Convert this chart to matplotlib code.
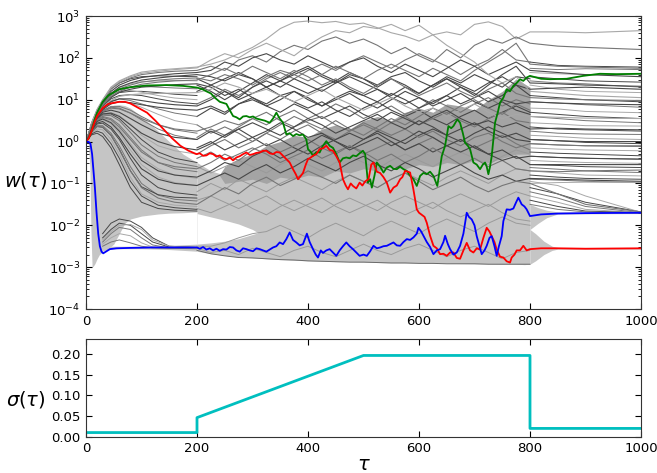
import numpy as np
import matplotlib.pyplot as plt

plt.rcParams['font.family'] = 'DejaVu Sans'
plt.rcParams['mathtext.fontset'] = 'dejavusans'

# ---------------- data (log10 w) ----------------
# highlighted trajectories: (tau, log10 w)
green_pts = [(0, 0.0), (5, 0.08), (10, 0.25), (15, 0.5), (20, 0.69), (30, 0.95), (40, 1.1), (60, 1.25),
             (80, 1.3), (110, 1.34), (145, 1.35), (175, 1.33), (200, 1.29), (210, 1.25), (217, 1.2),
             (225, 1.15), (232, 1.05), (241, 0.95), (253, 0.9), (259, 0.75), (265, 0.61), (271, 0.58),
             (277, 0.53), (283, 0.6), (289, 0.61), (295, 0.58), (301, 0.6), (307, 0.55), (313, 0.53),
             (322, 0.5), (331, 0.45), (337, 0.55), (343, 0.69), (349, 0.55), (355, 0.45), (361, 0.17),
             (367, 0.2), (373, 0.13), (379, 0.18), (385, 0.15), (391, 0.17), (397, 0.05), (400, -0.18),
             (405, -0.25), (409, -0.34), (415, -0.25), (421, -0.26), (427, -0.1), (433, 0.01), (439, -0.1),
             (445, -0.15), (451, -0.3), (457, -0.5), (463, -0.4), (469, -0.38), (475, -0.4), (481, -0.33),
             (487, -0.35), (493, -0.28), (499, -0.22), (503, -0.3), (508, -0.98), (512, -0.9), (515, -1.1),
             (520, -0.8), (524, -0.5), (530, -0.6), (536, -0.74), (542, -0.62), (548, -0.58), (554, -0.65),
             (560, -0.66), (566, -0.6), (572, -0.66), (578, -0.7), (584, -0.82), (590, -0.9), (596, -1.06),
             (602, -0.82), (608, -0.75), (614, -0.78), (620, -0.72), (626, -0.82), (633, -1.06), (637, -0.7),
             (641, -0.35), (647, -0.1), (653, 0.37), (658, 0.32), (662, 0.37), (669, 0.53), (674, 0.45),
             (679, 0.2), (683, -0.03), (688, -0.1), (692, -0.18), (698, -0.5), (704, -0.55), (710, -0.66),
             (715, -0.55), (719, -0.5), (722, -0.6), (725, -0.78), (728, -0.6), (731, -0.35), (737, 0.45),
             (742, 0.7), (746, 0.93), (752, 1.05), (758, 1.25), (764, 1.2), (770, 1.33), (776, 1.4),
             (782, 1.49), (788, 1.45), (794, 1.53), (800, 1.57), (820, 1.5), (836, 1.49), (866, 1.5),
             (896, 1.57), (926, 1.62), (956, 1.61), (1000, 1.62)]

red_pts = [(0, 0.0), (5, 0.08), (10, 0.25), (15, 0.45), (20, 0.61), (30, 0.8), (40, 0.9), (60, 0.95),
           (70, 0.95), (80, 0.91), (95, 0.8), (110, 0.69), (125, 0.5), (140, 0.29), (155, 0.08), (170, -0.1),
           (185, -0.22), (199, -0.3), (205, -0.28), (211, -0.34), (217, -0.33), (223, -0.28), (229, -0.3),
           (235, -0.36), (241, -0.33), (247, -0.4), (253, -0.42), (259, -0.38), (265, -0.45), (271, -0.38),
           (277, -0.35), (283, -0.3), (289, -0.26), (295, -0.32), (301, -0.3), (307, -0.27), (313, -0.26),
           (319, -0.22), (325, -0.22), (331, -0.28), (337, -0.3), (343, -0.25), (349, -0.26), (355, -0.34),
           (361, -0.42), (367, -0.5), (373, -0.66), (378, -0.78), (382, -0.9), (387, -0.82), (391, -0.75),
           (396, -0.55), (400, -0.42), (405, -0.38), (409, -0.34), (415, -0.3), (421, -0.18), (427, -0.16),
           (433, -0.1), (439, -0.2), (445, -0.22), (451, -0.35), (457, -0.5), (463, -0.9), (468, -1.05),
           (472, -1.14), (477, -1.0), (481, -1.06), (487, -1.12), (493, -0.98), (498, -1.05), (503, -0.95),
           (509, -0.9), (514, -0.55), (518, -0.5), (524, -0.72), (530, -0.75), (536, -0.85), (542, -0.98),
           (548, -1.22), (554, -1.1), (560, -1.05), (566, -0.9), (570, -0.85), (575, -0.7), (580, -0.72),
           (584, -0.74), (590, -1.15), (596, -1.62), (600, -1.7), (605, -1.75), (610, -1.8), (614, -1.94),
           (620, -2.25), (626, -2.49), (632, -2.55), (638, -2.69), (644, -2.68), (650, -2.73), (656, -2.65),
           (662, -2.65), (668, -2.78), (674, -2.8), (680, -2.6), (686, -2.42), (692, -2.6), (698, -2.65),
           (704, -2.55), (710, -2.58), (716, -2.3), (722, -2.06), (727, -2.15), (731, -2.26), (736, -2.4),
           (740, -2.58), (746, -2.75), (752, -2.77), (758, -2.86), (764, -2.89), (767, -2.77), (772, -2.7),
           (776, -2.6), (782, -2.6), (788, -2.49), (794, -2.6), (800, -2.57), (820, -2.55), (850, -2.55),
           (900, -2.56), (1000, -2.55)]

blue_pts = [(0, 0.0), (5, -0.01), (8, -0.05), (11, -0.3), (14, -0.8), (16, -1.1), (19, -1.7), (22, -2.2),
            (25, -2.5), (28, -2.63), (31, -2.67), (37, -2.62), (43, -2.57), (55, -2.55), (80, -2.54),
            (120, -2.53), (160, -2.53), (200, -2.53), (205, -2.56), (211, -2.52), (217, -2.58), (223, -2.55),
            (229, -2.6), (235, -2.56), (241, -2.61), (247, -2.57), (253, -2.58), (259, -2.52), (265, -2.53),
            (271, -2.6), (277, -2.63), (283, -2.55), (289, -2.57), (295, -2.6), (301, -2.62), (307, -2.55),
            (313, -2.57), (319, -2.6), (325, -2.63), (331, -2.58), (337, -2.53), (343, -2.5), (349, -2.41),
            (355, -2.45), (361, -2.33), (367, -2.17), (373, -2.35), (379, -2.41), (385, -2.48), (391, -2.45),
            (398, -2.2), (403, -2.4), (409, -2.57), (414, -2.7), (418, -2.77), (423, -2.6), (427, -2.66),
            (433, -2.6), (439, -2.57), (445, -2.65), (451, -2.73), (457, -2.6), (463, -2.5), (469, -2.41),
            (475, -2.5), (481, -2.57), (487, -2.65), (493, -2.73), (500, -2.7), (506, -2.73), (512, -2.62),
            (518, -2.49), (524, -2.55), (530, -2.53), (536, -2.5), (542, -2.49), (548, -2.45), (554, -2.41),
            (560, -2.48), (566, -2.49), (572, -2.4), (578, -2.33), (584, -2.35), (590, -2.29), (596, -2.2),
            (599, -2.06), (604, -2.15), (608, -2.25), (614, -2.4), (620, -2.52), (626, -2.69), (632, -2.6),
            (638, -2.57), (644, -2.4), (647, -2.25), (652, -2.45), (656, -2.57), (662, -2.7), (668, -2.65),
            (674, -2.49), (680, -2.2), (686, -1.7), (690, -1.8), (695, -1.86), (700, -2.0), (704, -2.26),
            (710, -2.55), (713, -2.69), (718, -2.6), (722, -2.49), (727, -2.3), (731, -2.26), (736, -2.5),
            (740, -2.73), (744, -2.5), (749, -2.26), (752, -1.9), (758, -1.62), (764, -1.63), (770, -1.6),
            (775, -1.45), (779, -1.34), (785, -1.5), (790, -1.55), (794, -1.62), (800, -1.78), (820, -1.74),
            (850, -1.72), (900, -1.71), (1000, -1.7)]

# grey ensemble: sampled trajectories
tau_early = [0, 5, 10, 20, 30, 45, 60, 80, 100, 130, 160, 200]
tau_mid = [225, 250, 275, 300, 325, 350, 375, 400, 425, 450, 475, 500,
           525, 550, 575, 600, 625, 650, 675, 700, 725, 750, 775, 800]
tau_late = [850, 900, 1000]

track_early = [
    [0, 0.2, 0.45, 0.77, 1.0, 1.3, 1.45, 1.57, 1.66, 1.71, 1.74, 1.78],
    [0, 0.2, 0.43, 0.74, 0.97, 1.25, 1.4, 1.52, 1.6, 1.65, 1.68, 1.7],
    [0, 0.2, 0.42, 0.72, 0.93, 1.2, 1.35, 1.46, 1.53, 1.58, 1.62, 1.65],
    [0, 0.19, 0.4, 0.7, 0.9, 1.15, 1.3, 1.4, 1.47, 1.52, 1.56, 1.6],
    [0, 0.19, 0.4, 0.68, 0.88, 1.12, 1.26, 1.35, 1.42, 1.47, 1.5, 1.52],
    [0, 0.18, 0.38, 0.65, 0.84, 1.05, 1.18, 1.25, 1.3, 1.33, 1.36, 1.38],
    [0, 0.18, 0.38, 0.63, 0.8, 0.98, 1.08, 1.12, 1.14, 1.15, 1.16, 1.17],
    [0, 0.17, 0.36, 0.6, 0.76, 0.9, 0.95, 0.93, 0.88, 0.82, 0.78, 0.75],
    [0, 0.16, 0.35, 0.58, 0.72, 0.8, 0.78, 0.68, 0.55, 0.4, 0.3, 0.25],
    [0, 0.15, 0.33, 0.55, 0.66, 0.68, 0.6, 0.4, 0.2, 0.0, -0.12, -0.2],
    [0, 0.14, 0.3, 0.5, 0.58, 0.52, 0.35, 0.05, -0.25, -0.5, -0.6, -0.65],
    [0, 0.12, 0.27, 0.44, 0.48, 0.35, 0.1, -0.3, -0.65, -0.9, -1.0, -1.05],
    [0, 0.1, 0.22, 0.36, 0.35, 0.15, -0.2, -0.7, -1.1, -1.35, -1.45, -1.5],
    [0, 0.17, 0.37, 0.62, 0.78, 0.95, 1.02, 1.02, 0.98, 0.92, 0.88, 0.85],
    [0, 0.2, 0.44, 0.76, 0.99, 1.28, 1.43, 1.55, 1.63, 1.68, 1.72, 1.76],
    [0, 0.15, 0.34, 0.57, 0.7, 0.75, 0.7, 0.55, 0.4, 0.2, 0.1, 0.05],
    [0, 0.18, 0.39, 0.66, 0.86, 1.08, 1.2, 1.3, 1.37, 1.42, 1.45, 1.47],
    [0, 0.13, 0.29, 0.48, 0.54, 0.45, 0.25, -0.1, -0.45, -0.7, -0.8, -0.85],
]
track_mid = [
    [1.85, 1.95, 2.1, 2.25, 2.45, 2.7, 2.85, 2.88, 2.84, 2.87, 2.8, 2.83, 2.72, 2.6, 2.52, 2.4, 2.55, 2.62, 2.55, 2.8, 2.86, 2.75, 2.45, 2.62],
    [1.8, 1.7, 1.95, 2.05, 1.9, 2.15, 2.3, 2.2, 2.4, 2.5, 2.35, 2.45, 2.3, 2.1, 2.25, 2.05, 1.9, 2.2, 2.0, 2.3, 2.45, 2.35, 2.5, 2.35],
    [1.7, 1.9, 1.8, 2.0, 2.1, 1.95, 1.85, 2.05, 1.9, 1.75, 1.9, 2.0, 1.8, 1.65, 1.85, 1.7, 1.55, 1.75, 1.95, 1.8, 1.6, 1.75, 1.9, 1.7],
    [1.55, 1.45, 1.6, 1.5, 1.3, 1.45, 1.6, 1.75, 1.55, 1.4, 1.6, 1.5, 1.35, 1.55, 1.65, 1.45, 1.3, 1.5, 1.35, 1.2, 1.4, 1.55, 1.35, 1.25],
    [1.45, 1.6, 1.5, 1.35, 1.55, 1.7, 1.6, 1.45, 1.6, 1.8, 1.65, 1.5, 1.7, 1.85, 1.7, 1.55, 1.75, 1.6, 1.45, 1.7, 1.9, 2.1, 2.35, 1.85],
    [1.3, 1.1, 1.25, 1.05, 0.9, 1.1, 1.2, 1.0, 0.85, 1.05, 1.2, 1.1, 0.95, 1.15, 1.0, 0.8, 0.95, 1.1, 0.9, 1.05, 1.2, 1.0, 0.9, 0.95],
    [1.25, 1.4, 1.3, 1.15, 1.25, 1.1, 0.95, 1.1, 1.25, 1.05, 0.9, 0.75, 0.9, 1.05, 0.85, 0.7, 0.8, 0.6, 0.75, 0.9, 0.7, 0.55, 0.65, 0.6],
    [0.85, 0.7, 0.9, 1.0, 0.85, 0.7, 0.9, 0.75, 0.55, 0.7, 0.85, 0.65, 0.5, 0.7, 0.55, 0.4, 0.6, 0.75, 0.55, 0.4, 0.5, 0.35, 0.45, 0.3],
    [0.35, 0.5, 0.4, 0.55, 0.7, 0.5, 0.35, 0.5, 0.6, 0.4, 0.25, 0.45, 0.3, 0.15, 0.3, 0.1, 0.25, 0.05, -0.1, 0.1, 0.2, 0.0, -0.15, -0.05],
    [-0.05, 0.15, 0.3, 0.1, 0.25, 0.45, 0.3, 0.1, 0.2, 0.0, -0.15, 0.05, 0.2, 0.0, -0.2, -0.05, -0.25, -0.1, 0.05, -0.15, -0.3, -0.2, -0.4, -0.35],
    [-0.5, -0.3, -0.45, -0.2, -0.05, -0.25, -0.1, 0.05, -0.15, -0.3, -0.1, -0.25, -0.45, -0.3, -0.5, -0.35, -0.15, -0.35, -0.55, -0.4, -0.6, -0.45, -0.65, -0.7],
    [-0.9, -0.75, -0.9, -0.7, -0.55, -0.75, -0.6, -0.4, -0.55, -0.7, -0.5, -0.35, -0.55, -0.7, -0.5, -0.65, -0.85, -0.7, -0.55, -0.75, -0.9, -0.8, -0.95, -0.88],
    [-1.3, -1.1, -1.25, -1.0, -0.85, -1.05, -0.9, -0.7, -0.85, -1.0, -0.8, -0.95, -1.1, -0.9, -0.75, -0.95, -1.15, -1.0, -0.85, -1.05, -1.2, -1.05, -0.95, -1.0],
    [1.0, 1.2, 1.05, 1.3, 1.45, 1.3, 1.5, 1.35, 1.2, 1.4, 1.55, 1.4, 1.25, 1.1, 1.3, 1.15, 1.35, 1.5, 1.3, 1.1, 1.35, 1.6, 1.8, 1.4],
    [1.95, 2.1, 2.0, 2.2, 2.35, 2.2, 2.05, 2.3, 2.5, 2.65, 2.6, 2.75, 2.7, 2.8, 2.65, 2.78, 2.55, 2.3, 2.1, 1.9, 1.6, 1.4, 1.55, 1.2],
    [0.25, 0.1, 0.3, 0.45, 0.3, 0.15, 0.35, 0.55, 0.4, 0.2, 0.35, 0.5, 0.65, 0.45, 0.3, 0.5, 0.35, 0.15, 0.3, 0.45, 0.25, 0.1, 0.2, 0.05],
    [1.6, 1.75, 1.6, 1.8, 1.65, 1.5, 1.7, 1.55, 1.35, 1.5, 1.3, 1.15, 1.35, 1.5, 1.3, 1.1, 1.25, 1.4, 1.2, 1.05, 1.25, 1.4, 1.15, 1.05],
    [-0.7, -0.5, -0.6, -0.35, -0.2, -0.4, -0.25, -0.05, 0.15, 0.0, -0.2, -0.05, 0.1, -0.1, 0.05, 0.25, 0.1, -0.1, -0.25, -0.1, -0.3, -0.45, -0.35, -0.55],
]
track_late = [
    [2.62, 2.6, 2.65], [2.28, 2.25, 2.2], [1.65, 1.6, 1.55], [1.28, 1.3, 1.25], [1.8, 1.78, 1.75],
    [0.92, 0.9, 0.88], [0.58, 0.56, 0.55], [0.32, 0.3, 0.28], [-0.08, -0.1, -0.1], [-0.38, -0.4, -0.42],
    [-0.72, -0.7, -0.68], [-0.9, -0.92, -0.95], [-1.25, -1.5, -1.68], [1.38, 1.35, 1.32], [1.15, 1.1, 1.05],
    [0.02, 0.0, 0.0], [1.02, 1.0, 0.98], [-0.55, -0.55, -0.55],
]

# additional early fan trajectories (tau_early)
fan_lines = [
    [0, 0.15, 0.33, 0.55, 0.66, 0.66, 0.55, 0.3, 0.05, -0.25, -0.4, -0.5],
    [0, 0.14, 0.31, 0.52, 0.6, 0.55, 0.4, 0.1, -0.2, -0.5, -0.65, -0.72],
    [0, 0.13, 0.29, 0.47, 0.52, 0.42, 0.2, -0.2, -0.55, -0.85, -0.98, -1.05],
    [0, 0.12, 0.26, 0.42, 0.44, 0.3, 0.05, -0.4, -0.8, -1.1, -1.22, -1.28],
    [0, 0.11, 0.24, 0.38, 0.38, 0.2, -0.1, -0.6, -1.0, -1.28, -1.38, -1.42],
    [0, 0.1, 0.2, 0.3, 0.28, 0.05, -0.3, -0.85, -1.25, -1.45, -1.52, -1.55],
    [0, 0.08, 0.16, 0.2, 0.12, -0.15, -0.55, -1.1, -1.45, -1.6, -1.64, -1.66],
    [0, 0.16, 0.35, 0.6, 0.74, 0.82, 0.8, 0.68, 0.52, 0.3, 0.15, 0.05],
    [0, 0.17, 0.37, 0.63, 0.79, 0.92, 0.96, 0.92, 0.82, 0.65, 0.5, 0.4],
    [0, 0.18, 0.39, 0.67, 0.85, 1.02, 1.1, 1.12, 1.1, 1.02, 0.95, 0.9],
    [0, 0.19, 0.41, 0.7, 0.9, 1.12, 1.24, 1.3, 1.32, 1.3, 1.28, 1.26],
    [0, 0.14, 0.3, 0.5, 0.56, 0.48, 0.3, -0.05, -0.38, -0.65, -0.8, -0.88],
    [0, 0.09, 0.18, 0.25, 0.2, -0.05, -0.4, -0.95, -1.3, -1.52, -1.58, -1.62],
    [0, 0.15, 0.32, 0.54, 0.63, 0.62, 0.5, 0.22, -0.08, -0.35, -0.5, -0.6],
    [0, 0.19, 0.41, 0.71, 0.91, 1.15, 1.29, 1.38, 1.43, 1.45, 1.46, 1.45],
    [0, 0.18, 0.39, 0.68, 0.87, 1.07, 1.17, 1.2, 1.2, 1.17, 1.13, 1.1],
    [0, 0.17, 0.37, 0.64, 0.81, 0.97, 1.02, 0.98, 0.9, 0.78, 0.68, 0.6],
    [0, 0.18, 0.4, 0.69, 0.88, 1.1, 1.2, 1.22, 1.18, 1.1, 1.04, 1.0],
    [0, 0.2, 0.43, 0.75, 0.98, 1.26, 1.4, 1.5, 1.55, 1.57, 1.56, 1.55],
    [0, 0.16, 0.35, 0.6, 0.74, 0.84, 0.84, 0.75, 0.6, 0.4, 0.28, 0.2],
    [0, 0.15, 0.33, 0.55, 0.66, 0.7, 0.62, 0.42, 0.15, -0.1, -0.22, -0.3],
    [0, 0.11, 0.23, 0.36, 0.34, 0.15, -0.18, -0.7, -1.08, -1.27, -1.33, -1.35],
]

# trajectories branching off the fan towards the low state
tau_branch = [30, 45, 60, 80, 100, 120, 150, 200]
branch_lines = [
    [-2.3, -2.1, -1.95, -2.0, -2.2, -2.4, -2.52, -2.54],
    [-2.4, -2.2, -2.05, -2.1, -2.3, -2.47, -2.54, -2.55],
    [-2.45, -2.3, -2.2, -2.25, -2.42, -2.52, -2.55, -2.55],
    [-2.2, -1.95, -1.85, -1.9, -2.05, -2.3, -2.5, -2.53],
    [-2.5, -2.4, -2.35, -2.42, -2.5, -2.54, -2.55, -2.56],
    [-2.35, -2.15, -2.0, -1.98, -2.1, -2.35, -2.5, -2.54],
]

# trajectories inside the dense band and above it (200..800)
tau_band_lines = [200] + tau_mid
band_lines = [
    [-1.2, -1.0, -1.15, -0.9, -1.05, -1.2, -1.0, -0.85, -1.0, -1.15, -0.95, -0.8, -0.95, -1.1, -0.9, -0.75, -0.9, -1.05, -0.85, -0.7, -0.85, -1.0, -0.8, -0.65, -0.7],
    [-1.6, -1.7, -1.55, -1.4, -1.6, -1.75, -1.55, -1.4, -1.55, -1.7, -1.5, -1.35, -1.5, -1.65, -1.45, -1.3, -1.45, -1.6, -1.4, -1.25, -1.4, -1.55, -1.35, -1.2, -1.3],
    [-2.5, -2.5, -2.42, -2.3, -2.2, -2.15, -2.0, -2.15, -2.3, -2.1, -1.95, -2.1, -2.25, -2.05, -1.9, -2.05, -2.2, -2.0, -1.85, -2.0, -2.15, -1.95, -1.8, -1.95, -2.0],
    [-2.55, -2.65, -2.6, -2.7, -2.55, -2.65, -2.75, -2.6, -2.5, -2.65, -2.75, -2.6, -2.45, -2.6, -2.7, -2.55, -2.45, -2.6, -2.75, -2.6, -2.5, -2.65, -2.8, -2.65, -2.6],
    [-0.6, -0.75, -0.6, -0.45, -0.6, -0.75, -0.55, -0.4, -0.55, -0.7, -0.5, -0.35, -0.5, -0.65, -0.45, -0.3, -0.45, -0.6, -0.4, -0.25, -0.4, -0.55, -0.35, -0.2, -0.3],
    [-1.4, -1.3, -1.45, -1.6, -1.45, -1.3, -1.5, -1.65, -1.5, -1.35, -1.55, -1.7, -1.55, -1.4, -1.6, -1.75, -1.6, -1.45, -1.65, -1.8, -1.65, -1.5, -1.7, -1.85, -1.9],
    [-2.6, -2.68, -2.73, -2.77, -2.78, -2.8, -2.82, -2.83, -2.85, -2.86, -2.87, -2.88, -2.88, -2.89, -2.9, -2.9, -2.91, -2.91, -2.92, -2.92, -2.92, -2.93, -2.93, -2.93, -2.93],
]
upper_lines = [
    [0.6, 0.8, 0.65, 0.9, 1.05, 0.85, 1.0, 1.2, 1.05, 0.85, 1.0, 1.15, 0.95, 0.8, 1.0, 1.2, 1.05, 0.9, 1.1, 1.3, 1.15, 0.95, 1.1, 1.35, 1.1],
    [0.1, 0.3, 0.15, 0.35, 0.55, 0.4, 0.6, 0.75, 0.55, 0.7, 0.9, 0.75, 0.55, 0.7, 0.85, 0.65, 0.8, 1.0, 0.85, 0.7, 0.9, 1.05, 0.85, 1.0, 0.9],
    [1.2, 1.35, 1.2, 1.0, 1.15, 1.3, 1.1, 0.95, 0.8, 0.95, 0.75, 0.6, 0.8, 0.95, 0.75, 0.6, 0.75, 0.55, 0.4, 0.6, 0.75, 0.55, 0.7, 0.85, 0.7],
    [-0.3, -0.1, 0.05, -0.15, 0.0, 0.2, 0.05, 0.25, 0.4, 0.2, 0.05, 0.25, 0.4, 0.25, 0.45, 0.6, 0.4, 0.55, 0.7, 0.5, 0.35, 0.55, 0.7, 0.5, 0.45],
    [1.5, 1.35, 1.5, 1.65, 1.5, 1.3, 1.45, 1.3, 1.15, 1.3, 1.45, 1.25, 1.1, 1.25, 1.05, 0.9, 1.05, 0.85, 1.0, 1.15, 0.95, 0.8, 0.95, 0.75, 0.65],
    [0.9, 1.05, 1.25, 1.1, 1.3, 1.5, 1.65, 1.5, 1.7, 1.85, 1.7, 1.9, 2.05, 1.9, 1.75, 1.95, 2.1, 1.95, 1.8, 1.6, 1.8, 1.95, 2.2, 1.95, 1.9],
    [-0.15, 0.0, -0.2, -0.05, 0.1, -0.1, 0.05, -0.15, -0.3, -0.1, 0.05, 0.2, 0.05, 0.25, 0.1, -0.05, 0.15, 0.3, 0.15, 0.0, 0.2, 0.35, 0.2, 0.05, 0.0],
    [0.4, 0.2, 0.35, 0.2, 0.0, 0.2, 0.4, 0.6, 0.45, 0.3, 0.5, 0.3, 0.15, 0.35, 0.55, 0.4, 0.6, 0.8, 0.65, 0.85, 1.0, 0.8, 0.65, 0.9, 0.75],
    [1.35, 1.2, 1.0, 1.2, 1.4, 1.6, 1.45, 1.65, 1.8, 1.6, 1.45, 1.65, 1.5, 1.3, 1.5, 1.35, 1.15, 1.35, 1.55, 1.4, 1.6, 1.45, 1.3, 1.55, 1.5],
    [-0.4, -0.25, -0.45, -0.3, -0.15, -0.3, -0.5, -0.35, -0.2, -0.4, -0.25, -0.1, -0.3, -0.15, 0.0, -0.2, -0.05, 0.1, -0.1, 0.05, -0.15, 0.0, 0.15, -0.05, -0.2],
]

# trajectories after the noise is switched down (800..1000)
tau_tail = [800, 850, 900, 1000]
tail_lines = [
    [1.9, 1.82, 1.8, 1.78], [1.75, 1.72, 1.74, 1.72], [1.65, 1.62, 1.6, 1.62], [1.55, 1.5, 1.45, 1.42],
    [1.45, 1.4, 1.38, 1.3], [1.35, 1.25, 1.2, 1.17], [1.1, 1.05, 1.0, 0.95], [0.95, 0.92, 0.88, 0.82],
    [0.8, 0.78, 0.72, 0.69], [0.7, 0.65, 0.6, 0.55], [0.6, 0.55, 0.5, 0.45], [0.45, 0.42, 0.38, 0.37],
    [0.35, 0.3, 0.28, 0.25], [0.25, 0.2, 0.18, 0.17], [0.15, 0.12, 0.08, 0.05], [0.05, 0.02, -0.02, -0.05],
    [-0.05, -0.08, -0.1, -0.12], [-0.15, -0.18, -0.2, -0.22], [-0.25, -0.28, -0.3, -0.34], [-0.35, -0.38, -0.4, -0.42],
    [-0.45, -0.48, -0.5, -0.52], [-0.55, -0.57, -0.6, -0.62], [-0.62, -0.66, -0.7, -0.74], [-0.7, -0.75, -0.8, -0.82],
    [-0.8, -0.85, -0.88, -0.9], [-0.9, -0.92, -0.95, -0.98], [-1.0, -0.98, -0.97, -0.98], [-1.1, -1.25, -1.45, -1.68],
    [-1.2, -1.35, -1.55, -1.7], [-1.3, -1.45, -1.62, -1.7], [-1.4, -1.55, -1.66, -1.7], [-1.5, -1.62, -1.68, -1.71],
    [-0.95, -1.05, -1.3, -1.69],
]

# envelopes of the dense light-grey mass
fan_tau = [0, 4, 7, 9, 11, 13, 16, 20, 25, 30, 40, 50, 60, 70, 80, 100, 130, 150, 175, 200]
fan_lo = [0, -0.05, -0.6, -2.2, -3.0, -2.98, -2.92, -2.8, -2.68, -2.6, -2.56, -2.45, -2.2, -1.95, -1.85, -1.78, -1.73, -1.71, -1.7, -1.68]
fan_hi = [0, 0.05, 0.15, 0.2, 0.28, 0.35, 0.45, 0.55, 0.65, 0.72, 0.82, 0.87, 0.88, 0.86, 0.8, 0.6, 0.25, 0.0, -0.3, -0.5]

low_tau = [25, 30, 40, 60, 100, 150, 200]
low_lo = [-2.7, -2.62, -2.57, -2.56, -2.56, -2.58, -2.62]
low_hi = [-2.5, -2.5, -2.5, -2.5, -2.5, -2.48, -2.45]

band_tau = [200, 225, 250, 275, 300, 350, 400, 450, 500, 550, 600, 650, 700, 750, 775, 790, 800]
band_lo = [-2.62, -2.68, -2.72, -2.76, -2.78, -2.82, -2.85, -2.87, -2.88, -2.9, -2.9, -2.91, -2.92, -2.93, -2.93, -2.94, -2.93]
band_hi = [-0.5, -0.7, -0.8, -0.75, -0.65, -0.55, -0.4, -0.25, -0.1, 0.0, 0.1, 0.2, 0.3, 0.45, 0.7, 1.0, 0.8]

# darker, denser part of the mass
dense_tau = [240] + tau_mid[1:]
dense_lo = [-0.8, -1.0, -0.95, -0.9, -1.0, -0.85, -0.9, -0.8, -0.85, -0.7, -0.75, -0.65, -0.7,
            -0.6, -0.65, -0.55, -0.6, -0.5, -0.55, -0.45, -0.5, -0.4, -0.3, -0.3]
dense_hi = [-0.8, -0.6, -0.4, -0.3, -0.1, 0.0, 0.15, 0.1, 0.3, 0.4, 0.3, 0.5, 0.6,
            0.5, 0.7, 0.8, 0.7, 0.9, 0.85, 0.75, 1.0, 1.2, 1.5, 1.3]

gap_tau = [200, 225, 250, 275, 300, 310]
gap_hi = [-1.72, -1.8, -1.88, -1.97, -2.1, -2.18]
gap_lo = [-2.45, -2.42, -2.38, -2.32, -2.22, -2.18]

tail_red_tau = [800, 810, 825, 840, 850, 1000]
tail_red_lo = [-2.93, -2.85, -2.7, -2.6, -2.57, -2.57]
tail_red_hi = [-2.1, -2.2, -2.38, -2.5, -2.53, -2.53]
tail_blue_tau = [800, 815, 830, 850, 1000]
tail_blue_lo = [-2.1, -1.95, -1.82, -1.73, -1.72]
tail_blue_hi = [-1.5, -1.58, -1.64, -1.68, -1.68]

# noise schedule sigma(tau)
sigma_tau = [0, 200, 200, 500, 800, 800, 1000]
sigma_val = [0.01, 0.01, 0.046, 0.196, 0.196, 0.02, 0.02]

# ---------------- plotting ----------------
DARK, MID, LIGHT, FILL = '#474747', '#767676', '#a8a8a8', '#c5c5c5'
shades = [DARK, MID, LIGHT]


def pw(vals):
    return 10.0 ** np.asarray(vals, dtype=float)


fig = plt.figure(figsize=(6.57, 4.73), dpi=100)
ax = fig.add_axes([86 / 657, 1 - 309 / 473, 555 / 657, 293 / 473])
ax2 = fig.add_axes([86 / 657, 1 - 436.7 / 473, 555 / 657, 97.4 / 473])

# dense grey mass
ax.fill_between(fan_tau, pw(fan_lo), pw(fan_hi), color=FILL, lw=0)
ax.fill_between(low_tau, pw(low_lo), pw(low_hi), color=FILL, lw=0)
ax.fill_between(band_tau, pw(band_lo), pw(band_hi), color=FILL, lw=0)
ax.fill_between(dense_tau, pw(dense_lo), pw(dense_hi), color='#a4a4a4', lw=0)
ax.fill_between(gap_tau, pw(gap_lo), pw(gap_hi), color='white', lw=0)
ax.fill_between(tail_red_tau, pw(tail_red_lo), pw(tail_red_hi), color=FILL, lw=0)
ax.fill_between(tail_blue_tau, pw(tail_blue_lo), pw(tail_blue_hi), color=FILL, lw=0)

for k, ys in enumerate(band_lines):
    ax.plot(tau_band_lines, pw(ys), color='#9a9a9a' if k < 6 else '#6a6a6a', lw=0.7)
for k, ys in enumerate(upper_lines):
    ax.plot(tau_band_lines, pw(ys), color=shades[k % 2], lw=0.8)
for k, ys in enumerate(branch_lines):
    ax.plot(tau_branch, pw(ys), color=shades[k % 3], lw=0.7)
for k, ys in enumerate(fan_lines):
    ax.plot(tau_early, pw(ys), color=shades[k % 3], lw=0.7)
for k, ys in enumerate(tail_lines):
    ax.plot(tau_tail, pw(ys), color=shades[k % 3], lw=0.7)

track_tau = tau_early + tau_mid + tau_late
track_shade = [LIGHT, MID, DARK, DARK, MID, DARK, LIGHT, DARK, MID,
               DARK, MID, DARK, MID, DARK, LIGHT, DARK, MID, DARK]
for e, m, l, c in zip(track_early, track_mid, track_late, track_shade):
    ax.plot(track_tau, pw(e + m + l), color=c, lw=0.8)

for pts, col in [(green_pts, 'g'), (red_pts, 'r'), (blue_pts, 'b')]:
    t, v = zip(*pts)
    ax.plot(t, pw(v), color=col, lw=1.3)

ax.set_yscale('log')
ax.set_xlim(0, 1000)
ax.set_ylim(1e-4, 1e3)
ax.set_ylabel(r'$w(\tau)$', fontsize=14, rotation=0, ha='center', va='center')
ax.yaxis.set_label_coords(-0.108, 0.44)

ax2.plot(sigma_tau, sigma_val, color='c', lw=2)
ax2.set_xlim(0, 1000)
ax2.set_ylim(0, 0.235)
ax2.set_yticks([0.0, 0.05, 0.10, 0.15, 0.20])
ax2.yaxis.set_major_formatter(plt.FormatStrFormatter('%.2f'))
ax2.set_ylabel(r'$\sigma(\tau)$', fontsize=14, rotation=0, ha='center', va='center')
ax2.yaxis.set_label_coords(-0.108, 0.38)
ax2.set_xlabel(r'$\tau$', fontsize=14, labelpad=0)

for a in (ax, ax2):
    a.tick_params(which='both', direction='in', top=True, right=True, labelsize=9.5)
    a.tick_params(which='major', length=4, pad=4)
    a.tick_params(which='minor', length=2)
    a.set_xticks([0, 200, 400, 600, 800, 1000])
    for s in a.spines.values():
        s.set_color('#333333')

fig.savefig('out.png', dpi=100, facecolor='white')
